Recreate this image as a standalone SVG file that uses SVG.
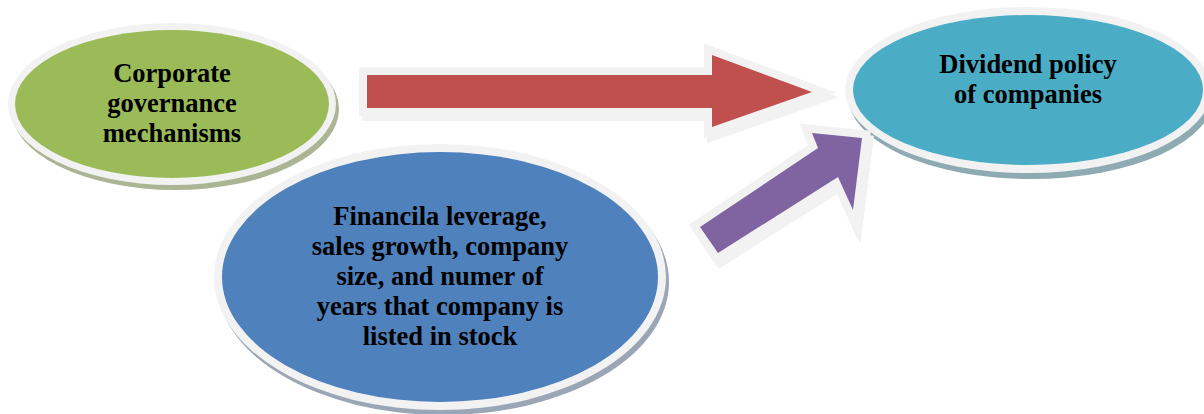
<svg xmlns="http://www.w3.org/2000/svg" width="1204" height="414" viewBox="0 0 1204 414">
  <style>
    .lbl { font-family: "Liberation Serif", "Times New Roman", serif; font-weight: bold; font-size: 26.5px; fill: #000; text-anchor: middle; }
    .rim { fill: #f2f2f2; }
    .arrowRim { stroke: #f2f2f2; stroke-width: 16; stroke-linejoin: miter; stroke-miterlimit: 6; }
  </style>
  <rect width="1204" height="414" fill="#ffffff"/>

  <g id="node-governance">
    <ellipse cx="175" cy="109" rx="164" ry="81" fill="#abb594"/>
    <ellipse class="rim" cx="172" cy="104" rx="164" ry="81"/>
    <ellipse cx="172" cy="104" rx="157" ry="74" fill="#9bbb59"/>
    <text class="lbl" x="172" y="82">Corporate</text>
    <text class="lbl" x="172" y="112">governance</text>
    <text class="lbl" x="172" y="142">mechanisms</text>
  </g>

  <g id="node-financial">
    <ellipse cx="443" cy="282" rx="226" ry="133" fill="#9aa5b5"/>
    <ellipse class="rim" cx="440" cy="277" rx="226" ry="133"/>
    <ellipse cx="440" cy="277" rx="218" ry="125" fill="#4f81bd"/>
    <text class="lbl" x="440" y="225">Financila leverage,</text>
    <text class="lbl" x="440" y="255">sales growth, company</text>
    <text class="lbl" x="440" y="285">size, and numer of</text>
    <text class="lbl" x="440" y="315">years that company is</text>
    <text class="lbl" x="440" y="345">listed in stock</text>
  </g>

  <g id="node-dividend">
    <ellipse cx="1031" cy="96" rx="183" ry="83" fill="#8eabb3"/>
    <ellipse class="rim" cx="1028" cy="90" rx="183" ry="83"/>
    <ellipse cx="1028" cy="90" rx="175" ry="75" fill="#4bacc6"/>
    <text class="lbl" x="1028" y="73">Dividend policy</text>
    <text class="lbl" x="1028" y="103">of companies</text>
  </g>

  <g id="connectors">
    <g id="arrow-governance-dividend">
      <polygon transform="translate(3,5)" class="arrowRim" fill="#b59191" stroke="#b59191" points="367,75 712,75 712,55 812,92 712,127 712,108 367,108"/>
      <polygon class="arrowRim" fill="#f2f2f2" points="367,75 712,75 712,55 812,92 712,127 712,108 367,108"/>
      <polygon fill="#c0504d" points="367,75 712,75 712,55 812,92 712,127 712,108 367,108"/>
    </g>
    <g id="arrow-financial-dividend">
      <polygon transform="translate(3,5)" class="arrowRim" fill="#a49cb0" stroke="#a49cb0" points="700,227 818,148 812,133 862,138 853,210 838,177 718,253"/>
      <polygon class="arrowRim" fill="#f2f2f2" points="700,227 818,148 812,133 862,138 853,210 838,177 718,253"/>
      <polygon fill="#8064a2" points="700,227 818,148 812,133 862,138 853,210 838,177 718,253"/>
    </g>
  </g>
</svg>
